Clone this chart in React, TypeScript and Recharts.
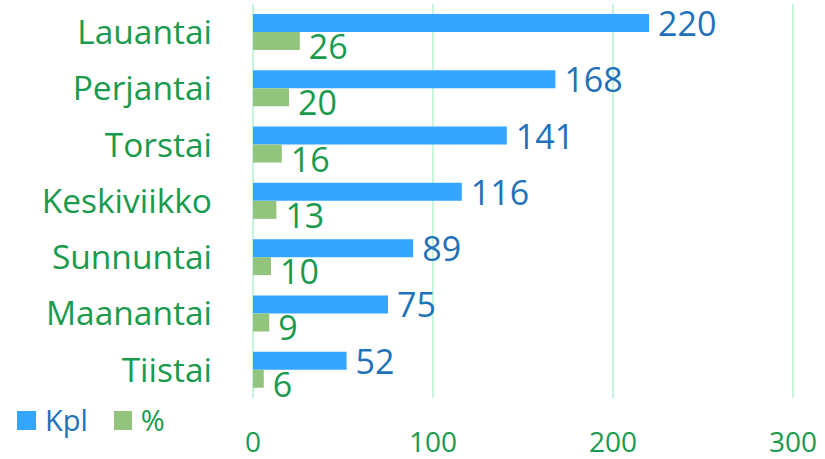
import React from "react";
import { BarChart, Bar, XAxis, YAxis, CartesianGrid, LabelList, Legend } from "recharts";

const categories = ["Lauantai", "Perjantai", "Torstai", "Keskiviikko", "Sunnuntai", "Maanantai", "Tiistai"];
const kpl = [220, 168, 141, 116, 89, 75, 52];
const pct = [26, 20, 16, 13, 10, 9, 6];
const xTicks = [0, 100, 200, 300];

const data = categories.map((c, i) => ({ name: c, kpl: kpl[i], pct: pct[i] }));

const FONT = "'Open Sans', 'Noto Sans', sans-serif";
const BLUE = "#35a6ff";
const GREEN = "#93c47d";
const BLUE_TEXT = "#1f72b9";
const GREEN_TEXT = "#1a9a4c";

const makeLabel = (color: string, dy: number) => (props: any) => {
  const { x, y, width, height, value } = props;
  return (
    <text
      x={x + width + 9}
      y={y + height / 2 + dy}
      fill={color}
      fontSize={34}
      fontFamily={FONT}
      dominantBaseline="central"
      textAnchor="start"
    >
      {value}
    </text>
  );
};

const renderLegend = () => (
  <div style={{ display: "flex", alignItems: "center", fontFamily: FONT, fontSize: 29, lineHeight: "30px" }}>
    <span style={{ width: 19, height: 19, background: BLUE, display: "inline-block" }} />
    <span style={{ color: BLUE_TEXT, marginLeft: 9, marginRight: 26 }}>Kpl</span>
    <span style={{ width: 18, height: 19, background: GREEN, display: "inline-block" }} />
    <span style={{ color: GREEN_TEXT, marginLeft: 9 }}>%</span>
  </div>
);

export default function App() {
  return (
    <div style={{ position: "absolute", left: 0, top: 0, background: "#fff" }}>
      <BarChart
        width={825}
        height={459}
        data={data}
        layout="vertical"
        margin={{ top: 4, right: 32, bottom: 0, left: 0 }}
        barGap={0}
      >
        <CartesianGrid horizontal={false} vertical={true} stroke="#c8f5dc" strokeWidth={2} />
        <XAxis
          type="number"
          domain={[0, 300]}
          ticks={xTicks}
          axisLine={false}
          tickLine={false}
          tickSize={0}
          tickMargin={34}
          height={61}
          tick={{ fill: GREEN_TEXT, fontSize: 28, fontFamily: FONT }}
        />
        <YAxis
          type="category"
          dataKey="name"
          width={253}
          axisLine={false}
          tickLine={false}
          tickSize={0}
          tickMargin={41}
          tick={{ fill: GREEN_TEXT, fontSize: 33.5, fontFamily: FONT }}
        />
        <Legend
          layout="horizontal"
          verticalAlign="middle"
          align="center"
          content={renderLegend}
          wrapperStyle={{ position: "absolute", left: 17, top: 405, width: 220, height: 30 }}
        />
        <Bar dataKey="kpl" name="Kpl" fill={BLUE} barSize={18} isAnimationActive={false}>
          <LabelList dataKey="kpl" content={makeLabel(BLUE_TEXT, 0)} />
        </Bar>
        <Bar dataKey="pct" name="%" fill={GREEN} barSize={18} isAnimationActive={false}>
          <LabelList dataKey="pct" content={makeLabel(GREEN_TEXT, 5)} />
        </Bar>
      </BarChart>
    </div>
  );
}
